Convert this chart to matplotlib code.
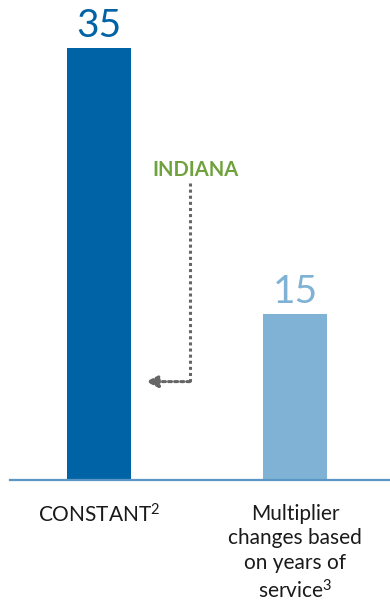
import numpy as np
import matplotlib.pyplot as plt

categories = ["CONSTANT$^{2}$", "Multiplier\nchanges based\non years of\nservice$^{3}$"]
values = [35, 15]
bar_colors = ["#0063a6", "#7fb2d4"]

plt.rcParams['font.family'] = ['Lato', 'DejaVu Sans']
plt.rcParams['mathtext.fontset'] = 'custom'
plt.rcParams['mathtext.rm'] = 'Lato'
plt.rcParams['mathtext.it'] = 'Lato'
plt.rcParams['mathtext.bf'] = 'Lato:bold'

fig = plt.figure(figsize=(3.9, 6.14), dpi=100)
ax = fig.add_axes([10 / 390, 1 - 480 / 614, 380 / 390, 480 / 614])

x = np.arange(len(values))
ax.bar(x, values, width=0.327, color=bar_colors, zorder=2)
ax.set_xlim(-0.454, 1.485)
ax.set_ylim(2.5, 38.6)

for xi, v, c in zip(x, values, bar_colors):
    ax.annotate(str(v), (xi, v), xytext=(0, 7.5), textcoords='offset points',
                ha='center', va='baseline', fontsize=28, color=c)

# axis line only along the bottom
for side in ['top', 'right', 'left']:
    ax.spines[side].set_visible(False)
ax.spines['bottom'].set_color('#5a97c7')
ax.spines['bottom'].set_linewidth(1.6)
ax.set_yticks([])
ax.set_xticks(x)
ax.set_xticklabels(categories, fontsize=15, color='#1a1a1a', linespacing=1.3, va='top')
ax.tick_params(axis='x', length=0, pad=17)

# Indiana marker with dotted elbow arrow
ax.text(0.495, 25.8, "INDIANA", ha='center', va='center', fontsize=14.5,
        fontweight='bold', color='#6fa23c')
ax.plot([0.464, 0.464], [24.8, 9.9], color='#666666', linestyle=(0, (1, 1)), linewidth=2.2)
ax.annotate("", xy=(0.24, 9.9), xytext=(0.464, 9.9),
            arrowprops=dict(arrowstyle='-|>,head_length=0.7,head_width=0.35',
                            color='#666666', linestyle=(0, (1, 1)), linewidth=2.2,
                            shrinkA=0, shrinkB=0))

plt.savefig("out.png", dpi=100)
